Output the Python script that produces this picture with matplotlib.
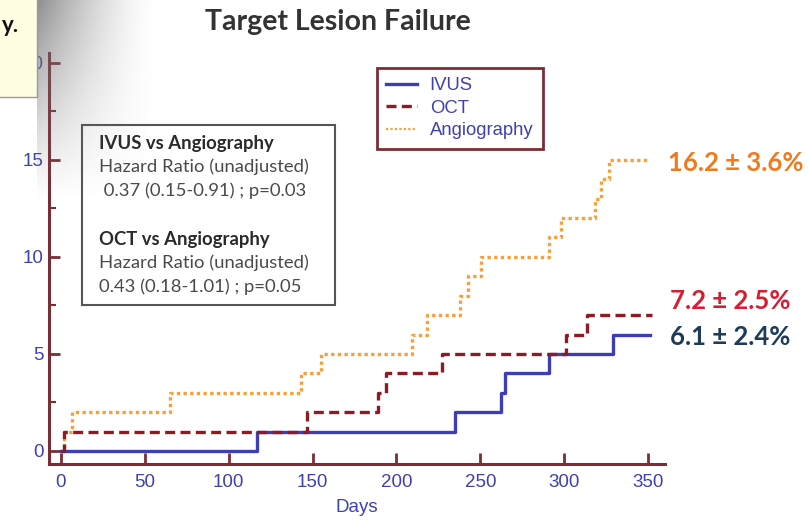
import numpy as np
import matplotlib
matplotlib.use("Agg")
import matplotlib.pyplot as plt
from matplotlib.patches import Rectangle
from matplotlib.lines import Line2D

# ---- data ----
ivus_days = [0, 117, 235, 262.5, 264.5, 291, 329, 351]
ivus_vals = [0, 1, 2, 3, 4, 5, 6, 6]
oct_days = [0, 2, 147, 189, 194, 227, 301, 313.5, 352]
oct_vals = [0, 1, 2, 3, 4, 5, 6, 7, 7]
angio_days = [0, 2, 6.5, 65, 143, 155, 209, 218, 238, 242.5, 250.5, 291, 298, 318, 322, 326.5, 350]
angio_vals = [0, 1, 2, 3, 4, 5, 6, 7, 8, 9, 10, 11, 12, 13, 14, 15, 15]
series_names = ["IVUS", "OCT", "Angiography"]
end_labels = ["6.1 \u00b1 2.4%", "7.2 \u00b1 2.5%", "16.2 \u00b1 3.6%"]
x_ticks = [0, 50, 100, 150, 200, 250, 300, 350]
y_ticks = [0, 5, 10, 15, 20]
stats_lines = [
    ("IVUS vs Angiography", True),
    ("Hazard Ratio (unadjusted)", False),
    (" 0.37 (0.15-0.91) ; p=0.03", False),
    ("", False),
    ("OCT vs Angiography", True),
    ("Hazard Ratio (unadjusted)", False),
    ("0.43 (0.18-1.01) ; p=0.05", False),
]

W, H = 810, 526
fig = plt.figure(figsize=(W / 100, H / 100), dpi=100)
fig.patch.set_facecolor("white")

def fx(px):
    return px / W

def fy(py):
    return 1 - py / H

ax = fig.add_axes([fx(49), fy(464), fx(665) - fx(49), fy(53) - fy(464)])
ax.set_xlim(-7, 360)
ax.set_ylim(-0.67, 20.5)

c_ivus = "#3d3db5"
c_oct = "#8c1c24"
c_angio = "#f5a03c"
spine_c = "#7b2d35"
tick_c = "#4040b0"

ax.step(angio_days, angio_vals, where="post", color=c_angio, lw=2.4,
        linestyle=(0, (1, 1)), label=series_names[2], zorder=3)
ax.step(ivus_days, ivus_vals, where="post", color=c_ivus, lw=2.4,
        label=series_names[0], zorder=4)
ax.step(oct_days, oct_vals, where="post", color=c_oct, lw=2.4,
        linestyle=(0, (3, 1.6)), label=series_names[1], zorder=5)

for s in ["top", "right"]:
    ax.spines[s].set_visible(False)
for s in ["left", "bottom"]:
    ax.spines[s].set_color(spine_c)
    ax.spines[s].set_linewidth(2.2)

ax.set_xticks(x_ticks)
ax.set_yticks(y_ticks)
ax.set_yticks([2.5, 7.5, 12.5, 17.5], minor=True)
ax.tick_params(axis="both", direction="in", color=spine_c, width=2, length=8,
               labelcolor=tick_c, labelsize=13.5)
ax.tick_params(axis="y", which="minor", direction="in", color=spine_c, width=1.5, length=5)
ax.tick_params(axis="y", pad=4)
ax.tick_params(axis="x", pad=7)
for lab in ax.get_xticklabels() + ax.get_yticklabels():
    lab.set_fontfamily("Liberation Sans")

ax.set_xlabel("Days", color=tick_c, fontsize=13.5, family="Liberation Sans", labelpad=6)

# legend
handles = [Line2D([0], [0], color=c_ivus, lw=2.4),
           Line2D([0], [0], color=c_oct, lw=2.4, linestyle=(0, (3, 1.6))),
           Line2D([0], [0], color=c_angio, lw=1.6, linestyle=(0, (1, 1)))]
leg = ax.legend(handles, series_names, loc="upper left",
                bbox_to_anchor=(fx(377), fy(68)), bbox_transform=fig.transFigure,
                frameon=True, fancybox=False, edgecolor=spine_c, framealpha=1,
                prop={"family": "Liberation Sans", "size": 13.3}, labelcolor=tick_c,
                handlelength=1.65, handletextpad=0.7, borderpad=0.5, labelspacing=0.3,
                borderaxespad=0)
leg.get_frame().set_linewidth(2)

# stats box
fig.patches.append(Rectangle((fx(82), fy(305)), fx(335) - fx(82), fy(125) - fy(305),
                             transform=fig.transFigure, facecolor="white",
                             edgecolor="#555555", lw=1.5, zorder=5))
ypos = 143
for txt, bold in stats_lines:
    if txt:
        fig.text(fx(99), fy(ypos), txt, fontsize=13.3, family="Lato",
                 fontweight="bold" if bold else "normal",
                 color="#2a2a2a" if bold else "#4a4a4a", va="center", ha="left", zorder=6)
    ypos += 24

# end labels
fig.text(fx(668), fy(163), end_labels[2], color="#f07a1e", fontsize=18.5,
         family="Lato", fontweight="bold", va="center", ha="left")
fig.text(fx(670), fy(301), end_labels[1], color="#d41f33", fontsize=18.5,
         family="Lato", fontweight="bold", va="center", ha="left")
fig.text(fx(670), fy(337), end_labels[0], color="#1e3c5a", fontsize=18.5,
         family="Lato", fontweight="bold", va="center", ha="left")

# title
fig.text(fx(338), fy(22), "Target Lesion Failure", color="#333333", fontsize=20.5,
         family="Lato", fontweight="bold", va="center", ha="center")

# shadow gradient at top-left
gw, gh = 120, 200
xx = np.linspace(0, 1, gw)
yy = np.linspace(0, 1, gh)
X, Y = np.meshgrid(xx, yy)
alpha = np.clip((1 - X) ** 1.5 * (1 - Y) ** 1.1, 0, 1) * 0.8
img = np.zeros((gh, gw, 4))
img[..., 0] = 0.45
img[..., 1] = 0.45
img[..., 2] = 0.45
img[..., 3] = alpha
sax = fig.add_axes([fx(37), fy(200), fx(157) - fx(37), fy(0) - fy(200)], zorder=8)
sax.imshow(img, aspect="auto", extent=[0, 1, 0, 1], origin="upper")
sax.axis("off")

# yellow box at top-left
fig.patches.append(Rectangle((fx(-2), fy(97)), fx(37) + 2 / W, fy(0) - fy(97) + 0.01,
                             transform=fig.transFigure, facecolor="#fffde2",
                             edgecolor="#9a9a9a", lw=1, zorder=9))
fig.text(fx(2), fy(26), "y.", fontsize=16, family="Lato", fontweight="bold",
         color="#111111", va="center", ha="left", zorder=10)

fig.savefig("out.png", dpi=100)
